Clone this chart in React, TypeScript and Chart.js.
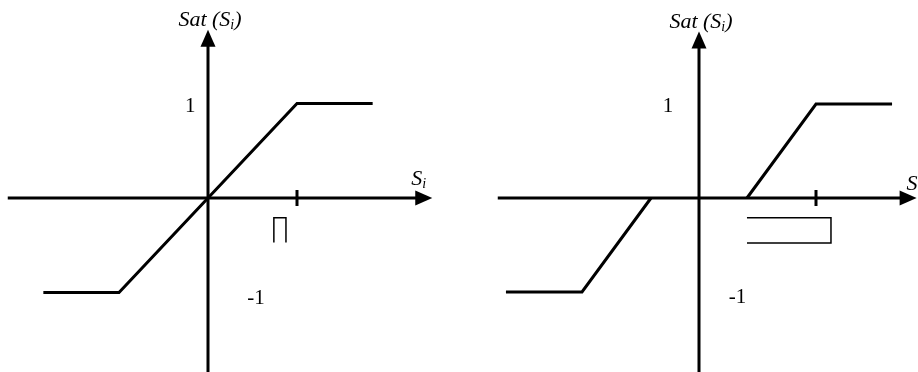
import React, { useEffect, useRef } from "react";
import { Chart, registerables } from "chart.js";

Chart.register(...registerables);

const SERIF = '"Liberation Serif", "Times New Roman", serif';

// Plain saturation: Sat(S_i) against S_i, with S_i measured in units of the layer width Π
const satInput = [-1.85, -1, 1, 1.85];
const satOutput = [-1, -1, 1, 1];

// Saturation with a dead zone of half-width 0.41: the two branches outside the zone
// (inside it the output is 0 and lies on the S_i axis)
const deadZoneNegInput = [-1.65, -1, -0.41];
const deadZoneNegOutput = [-1, -1, 0];
const deadZonePosInput = [0.41, 1, 1.65];
const deadZonePosOutput = [0, 1, 1];

// Output levels written beside the vertical axis
const levelValues = [1, -1];
const levelLabels = ["1", "-1"];

// Extents of the drawn axes (data units) and the marked tick on S_i
const satAxisX = [-2.25, 2.52];
const satAxisY = [-1.9, 1.78];
const deadZoneAxisX = [-1.72, 1.86];
const deadZoneAxisY = [-1.9, 1.77];
const tickValue = 1;

type Branch = { input: number[]; output: number[] };

type Panel = {
  left: number;
  branches: Branch[];
  axisX: number[];
  axisY: number[];
  view: { xMin: number; xMax: number; yMin: number; yMax: number };
  levelX: number[];
  levelDy: number[];
  axisLabelDx: number;
  axisLabelDy: number;
  mark: "cap" | "bracket";
  markX: number[];
  markY: number[];
};

const W = 459;
const H = 372;

const panels: Panel[] = [
  {
    left: 0,
    branches: [{ input: satInput, output: satOutput }],
    axisX: satAxisX,
    axisY: satAxisY,
    view: { xMin: -208 / 89, xMax: 251 / 89, yMin: -174 / 94.5, yMax: 198 / 94.5 },
    levelX: [-0.2, 0.54],
    levelDy: [8, 11],
    axisLabelDx: -21,
    axisLabelDy: -13,
    mark: "cap",
    markX: [0.74, 0.876],
    markY: [-0.21, -0.47],
  },
  {
    left: 459,
    branches: [
      { input: deadZoneNegInput, output: deadZoneNegOutput },
      { input: deadZonePosInput, output: deadZonePosOutput },
    ],
    axisX: deadZoneAxisX,
    axisY: deadZoneAxisY,
    view: { xMin: -240 / 117, xMax: 219 / 117, yMin: -174 / 94, yMax: 198 / 94 },
    levelX: [-0.265, 0.33],
    levelDy: [8, 11],
    axisLabelDx: -10,
    axisLabelDy: -8,
    mark: "bracket",
    markX: [0.41, 1.128],
    markY: [-0.21, -0.48],
  },
];

function drawItalicWithSub(
  ctx: CanvasRenderingContext2D,
  parts: { text: string; sub?: boolean }[],
  x: number,
  baseline: number,
  align: "left" | "center"
) {
  const main = `italic 22px ${SERIF}`;
  const sub = `italic 14px ${SERIF}`;
  let total = 0;
  const widths = parts.map((p) => {
    ctx.font = p.sub ? sub : main;
    const w = ctx.measureText(p.text).width;
    total += w;
    return w;
  });
  let cx = align === "center" ? x - total / 2 : x;
  ctx.textAlign = "left";
  ctx.textBaseline = "alphabetic";
  parts.forEach((p, i) => {
    ctx.font = p.sub ? sub : main;
    ctx.fillText(p.text, cx, p.sub ? baseline + 3 : baseline);
    cx += widths[i];
  });
}

function makeAxesPlugin(panel: Panel) {
  return {
    id: "arrowAxes",
    afterDatasetsDraw(chart: Chart) {
      const ctx = chart.ctx;
      const xs = chart.scales.x;
      const ys = chart.scales.y;
      const px = (v: number) => xs.getPixelForValue(v);
      const py = (v: number) => ys.getPixelForValue(v);
      const ox = px(0);
      const oy = py(0);
      const arrowLen = 17;
      const arrowHalf = 7.5;

      ctx.save();
      ctx.strokeStyle = "#000";
      ctx.fillStyle = "#000";
      ctx.lineCap = "butt";
      ctx.lineWidth = 3;

      // horizontal axis with arrow
      const xEnd = px(panel.axisX[1]);
      ctx.beginPath();
      ctx.moveTo(px(panel.axisX[0]), oy);
      ctx.lineTo(xEnd - arrowLen + 2, oy);
      ctx.stroke();
      ctx.beginPath();
      ctx.moveTo(xEnd, oy);
      ctx.lineTo(xEnd - arrowLen, oy - arrowHalf);
      ctx.lineTo(xEnd - arrowLen, oy + arrowHalf);
      ctx.closePath();
      ctx.fill();

      // vertical axis with arrow
      const yEnd = py(panel.axisY[1]);
      ctx.beginPath();
      ctx.moveTo(ox, py(panel.axisY[0]));
      ctx.lineTo(ox, yEnd + arrowLen - 2);
      ctx.stroke();
      ctx.beginPath();
      ctx.moveTo(ox, yEnd);
      ctx.lineTo(ox - arrowHalf, yEnd + arrowLen);
      ctx.lineTo(ox + arrowHalf, yEnd + arrowLen);
      ctx.closePath();
      ctx.fill();

      // tick on the S_i axis
      const tx = px(tickValue);
      ctx.beginPath();
      ctx.moveTo(tx, oy - 8);
      ctx.lineTo(tx, oy + 8);
      ctx.stroke();

      // boxed symbol under the axis
      ctx.lineWidth = 1.5;
      const [mx0, mx1] = panel.markX.map(px);
      const [my0, my1] = panel.markY.map(py);
      ctx.beginPath();
      if (panel.mark === "cap") {
        ctx.moveTo(mx0, my1);
        ctx.lineTo(mx0, my0);
        ctx.lineTo(mx1, my0);
        ctx.lineTo(mx1, my1);
      } else {
        ctx.moveTo(mx0, my0);
        ctx.lineTo(mx1, my0);
        ctx.lineTo(mx1, my1);
        ctx.lineTo(mx0, my1);
      }
      ctx.stroke();

      // output levels
      ctx.font = `21px ${SERIF}`;
      ctx.textAlign = "center";
      ctx.textBaseline = "alphabetic";
      levelValues.forEach((v, i) => {
        ctx.fillText(levelLabels[i], px(panel.levelX[i]), py(v) + panel.levelDy[i]);
      });

      // axis titles
      drawItalicWithSub(
        ctx,
        [{ text: "Sat (S" }, { text: "i", sub: true }, { text: ")" }],
        ox + 2,
        yEnd - 4,
        "center"
      );
      drawItalicWithSub(
        ctx,
        [{ text: "S" }, { text: "i", sub: true }],
        xEnd + panel.axisLabelDx,
        oy + panel.axisLabelDy,
        "left"
      );

      ctx.restore();
    },
  };
}

function SaturationPanel({ panel }: { panel: Panel }) {
  const ref = useRef<HTMLCanvasElement>(null);

  useEffect(() => {
    if (!ref.current) return;
    const chart = new Chart(ref.current, {
      type: "scatter",
      data: {
        datasets: panel.branches.map((b) => ({
          data: b.input.map((x, i) => ({ x, y: b.output[i] })),
          showLine: true,
          borderColor: "#000",
          backgroundColor: "#000",
          borderWidth: 3,
          pointRadius: 0,
          pointHoverRadius: 0,
          tension: 0,
          clip: false as any,
          borderCapStyle: "butt" as const,
          borderJoinStyle: "miter" as const,
        })),
      },
      options: {
        animation: false,
        responsive: false,
        events: [],
        layout: { padding: 0 },
        plugins: { legend: { display: false }, tooltip: { enabled: false } },
        scales: {
          x: { type: "linear", min: panel.view.xMin, max: panel.view.xMax, display: false },
          y: { type: "linear", min: panel.view.yMin, max: panel.view.yMax, display: false },
        },
      },
      plugins: [makeAxesPlugin(panel)],
    });
    return () => chart.destroy();
  }, [panel]);

  return (
    <div style={{ position: "absolute", left: panel.left, top: 0, width: W, height: H }}>
      <canvas ref={ref} width={W} height={H} style={{ display: "block", width: W, height: H }} />
    </div>
  );
}

export default function App() {
  return (
    <div
      style={{
        position: "fixed",
        left: 0,
        top: 0,
        width: 918,
        height: 372,
        background: "#fff",
        overflow: "hidden",
      }}
    >
      {panels.map((p, i) => (
        <SaturationPanel key={i} panel={p} />
      ))}
    </div>
  );
}
